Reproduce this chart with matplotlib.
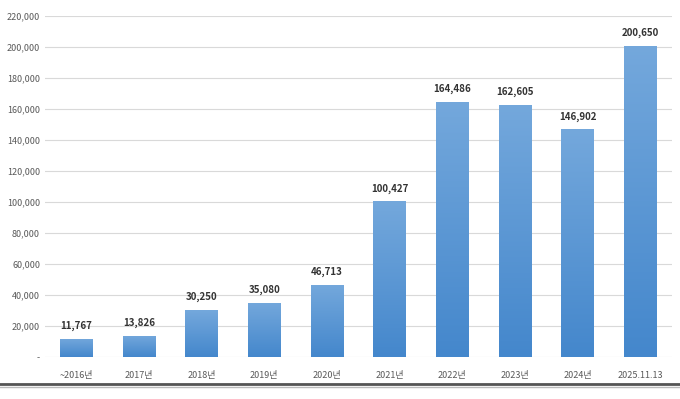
import numpy as np
import matplotlib.pyplot as plt
from matplotlib.lines import Line2D
from matplotlib.colors import LinearSegmentedColormap

plt.rcParams['font.family'] = ['Liberation Sans Narrow', 'Noto Sans CJK KR', 'DejaVu Sans']

categories = ['~2016년', '2017년', '2018년', '2019년', '2020년',
              '2021년', '2022년', '2023년', '2024년', '2025.11.13']
values = [11767, 13826, 30250, 35080, 46713, 100427, 164486, 162605, 146902, 200650]

fig = plt.figure(figsize=(6.8, 3.99), dpi=100)
ax = fig.add_axes([0.066, 0.105, 0.922, 0.855])

x = np.arange(len(categories))
bars = ax.bar(x, values, width=0.52, color='#5b9bd5', zorder=2)

# gradient fill, lighter on top
cmap = LinearSegmentedColormap.from_list('g', ['#4487cc', '#74a8dc'])
grad = np.linspace(0, 1, 256).reshape(-1, 1)
for b in bars:
    bx, by = b.get_x(), b.get_y()
    w, h = b.get_width(), b.get_height()
    im = ax.imshow(grad, cmap=cmap, aspect='auto', origin='lower',
                   extent=[bx, bx + w, by, by + h], zorder=3)
    im.set_clip_path(b)

for xi, v in zip(x, values):
    ax.text(xi, v + 5000, f'{v:,}', ha='center', va='bottom',
            fontsize=7, color='#333333', fontweight='bold', zorder=4)

ax.set_xlim(-0.5, 9.5)
ax.set_ylim(0, 220000)
yt = np.arange(0, 220001, 20000)
ax.set_yticks(yt)
ax.set_yticklabels(['-'] + [f'{t:,}' for t in yt[1:]])
ax.set_xticks(x)
ax.set_xticklabels(categories)
ax.tick_params(axis='both', length=0, labelsize=6.5, colors='#595959')
ax.tick_params(axis='x', pad=10)
ax.grid(axis='y', color='#d9d9d9', linewidth=0.8, zorder=0)
for s in ax.spines.values():
    s.set_visible(False)

fig.add_artist(Line2D([0, 1], [1 - 384 / 399] * 2, color='#555555', linewidth=2))
fig.add_artist(Line2D([0, 1], [1 - 387 / 399] * 2, color='#bbbbbb', linewidth=1))

fig.savefig('out.png', dpi=100)
